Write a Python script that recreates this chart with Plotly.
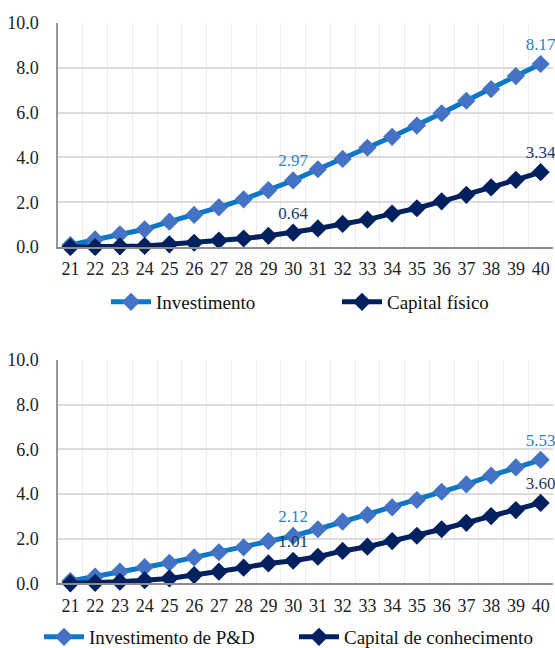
import plotly.graph_objects as go

years = [str(y) for y in range(21, 41)]
investimento = [0.09, 0.34, 0.57, 0.79, 1.13, 1.43, 1.77, 2.13, 2.54, 2.97,
                3.47, 3.93, 4.43, 4.92, 5.42, 5.97, 6.53, 7.05, 7.63, 8.17]
capital_fisico = [0.0, 0.0, 0.03, 0.05, 0.12, 0.19, 0.29, 0.38, 0.50, 0.64,
                  0.83, 1.03, 1.22, 1.49, 1.73, 2.04, 2.33, 2.66, 3.00, 3.34]
invest_pd = [0.10, 0.30, 0.52, 0.72, 0.92, 1.16, 1.39, 1.61, 1.89, 2.12,
             2.42, 2.76, 3.06, 3.40, 3.73, 4.10, 4.43, 4.82, 5.19, 5.53]
capital_conh = [0.0, 0.02, 0.07, 0.14, 0.22, 0.37, 0.52, 0.70, 0.89, 1.01,
                1.19, 1.45, 1.64, 1.89, 2.13, 2.42, 2.71, 3.01, 3.28, 3.60]
label_years = {"30", "40"}
y_ticks = [0, 2, 4, 6, 8, 10]
y_ticktext = [f"{v:.1f}" for v in y_ticks]

LIGHT_LINE = "#0A78C8"
LIGHT_MARK = "#4472C4"
LIGHT_TEXT = "#2E80C8"
DARK_LINE = "#00205F"
DARK_TEXT = "#1F3864"
FONT = "'Liberation Serif', 'Times New Roman', serif"


def labels(vals):
    return [f"{v:.2f}" if y in label_years else "" for y, v in zip(years, vals)]


fig = go.Figure()


def add(vals, name, line_c, mark_c, text_c, xa, ya, legend):
    fig.add_trace(go.Scatter(
        x=years, y=vals, name=name, mode="lines+markers+text",
        text=labels(vals), textposition="top center",
        textfont=dict(family=FONT, size=17, color=text_c),
        line=dict(color=line_c, width=5),
        marker=dict(symbol="diamond", size=14, color=mark_c),
        xaxis=xa, yaxis=ya, legend=legend, cliponaxis=False,
    ))


add(investimento, "Investimento", LIGHT_LINE, LIGHT_MARK, LIGHT_TEXT, "x", "y", "legend")
add(capital_fisico, "Capital físico", DARK_LINE, DARK_LINE, DARK_TEXT, "x", "y", "legend")
add(invest_pd, "Investimento de P&D", LIGHT_LINE, LIGHT_MARK, LIGHT_TEXT, "x2", "y2", "legend2")
add(capital_conh, "Capital de conhecimento", DARK_LINE, DARK_LINE, DARK_TEXT, "x2", "y2", "legend2")

xdom = [58 / 555, 553 / 555]
xcommon = dict(type="category", tickson="boundaries", showgrid=True,
               range=[-0.5, len(years) - 0.5], tickangle=0, automargin=False,
               gridcolor="#ececec", gridwidth=1, showline=True, linecolor="#8c8c8c",
               linewidth=1.5, ticks="", tickfont=dict(family=FONT, size=18, color="#222"),
               ticklabelstandoff=5, fixedrange=True, domain=xdom)
ycommon = dict(range=[0, 10], tickvals=y_ticks, ticktext=y_ticktext, showgrid=True,
               gridcolor="#dcdcdc", gridwidth=1.5, showline=True, linecolor="#999999",
               linewidth=1.5, zeroline=False, ticks="", automargin=False,
               tickfont=dict(family=FONT, size=18, color="#222"),
               ticklabelstandoff=14, fixedrange=True)

legcommon = dict(orientation="h", xanchor="left", yanchor="middle", itemwidth=40,
                 font=dict(family=FONT, size=19, color="#111"),
                 bgcolor="rgba(0,0,0,0)", itemclick=False, itemdoubleclick=False)

fig.update_layout(
    width=555, height=648,
    margin=dict(l=0, r=0, t=0, b=0, autoexpand=False),
    font=dict(family=FONT),
    paper_bgcolor="white", plot_bgcolor="white",
    xaxis=dict(**xcommon, anchor="y"),
    yaxis=dict(**ycommon, domain=[401 / 648, 625 / 648], anchor="x"),
    xaxis2=dict(**xcommon, anchor="y2"),
    yaxis2=dict(**ycommon, domain=[64.7 / 648, 288 / 648], anchor="x2"),
    legend=dict(**legcommon, x=106 / 555, y=(648 - 302) / 648, entrywidth=176),
    legend2=dict(**legcommon, x=39 / 555, y=(648 - 637) / 648, entrywidth=200),
    showlegend=True,
)

fig.write_html("out.html")
